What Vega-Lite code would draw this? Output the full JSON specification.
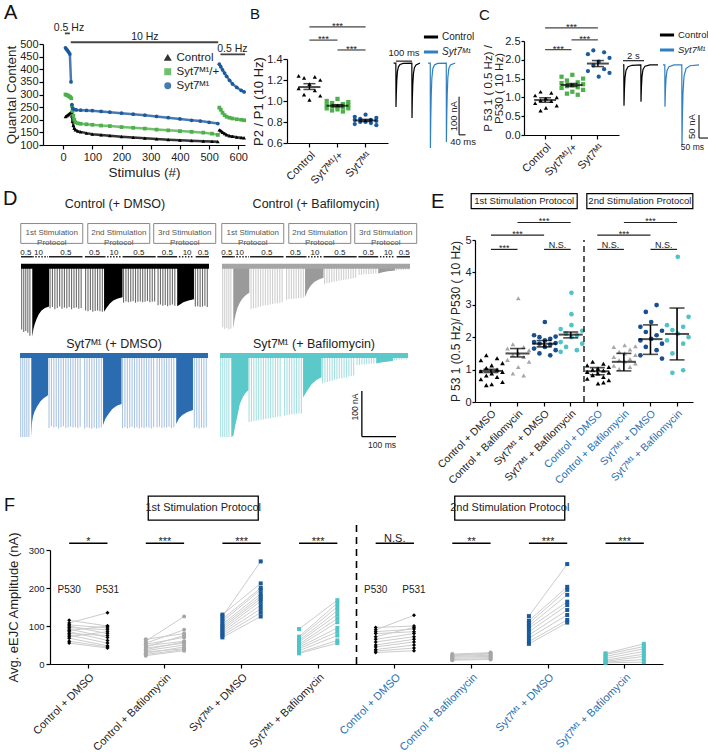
{
"$schema": "https://vega.github.io/schema/vega-lite/v6.json",
"padding": {"left": 3, "top": 2, "right": 0, "bottom": 0},
"background": "white",
"config": {
 "view": {"stroke": null},
 "font": "Liberation Sans",
 "axis": {"labelFont": "Liberation Sans", "titleFont": "Liberation Sans", "grid": false, "domainColor": "#000", "tickColor": "#000", "labelColor": "#222", "titleColor": "#222", "titleFontWeight": "normal", "domainWidth": 1.2, "tickWidth": 1.2, "tickSize": 4, "labelFontSize": 11, "titleFontSize": 12.5, "labelOverlap": false},
 "legend": {"labelFont": "Liberation Sans"},
 "text": {"font": "Liberation Sans"},
 "title": {"font": "Liberation Sans", "fontWeight": "normal", "fontSize": 17, "anchor": "start", "frame": "group", "color": "#111"}
},
"datasets": {
 "a": [
  {"g":"Control","seg":1,"s":8,"v":212},{"g":"Control","seg":1,"s":12,"v":215},{"g":"Control","seg":1,"s":16,"v":218},{"g":"Control","seg":1,"s":20,"v":222},{"g":"Control","seg":1,"s":24,"v":226},{"g":"Control","seg":1,"s":28,"v":230},
  {"g":"Control","seg":2,"s":30,"v":215},{"g":"Control","seg":2,"s":32,"v":195},{"g":"Control","seg":2,"s":35,"v":178},{"g":"Control","seg":2,"s":38,"v":166},{"g":"Control","seg":2,"s":42,"v":160},{"g":"Control","seg":2,"s":50,"v":155},{"g":"Control","seg":2,"s":60,"v":152},{"g":"Control","seg":2,"s":80,"v":147},{"g":"Control","seg":2,"s":100,"v":143},{"g":"Control","seg":2,"s":130,"v":140},{"g":"Control","seg":2,"s":160,"v":137},{"g":"Control","seg":2,"s":200,"v":133},{"g":"Control","seg":2,"s":240,"v":130},{"g":"Control","seg":2,"s":280,"v":127},{"g":"Control","seg":2,"s":320,"v":124},{"g":"Control","seg":2,"s":360,"v":121},{"g":"Control","seg":2,"s":400,"v":119},{"g":"Control","seg":2,"s":440,"v":117},{"g":"Control","seg":2,"s":480,"v":115},{"g":"Control","seg":2,"s":510,"v":114},{"g":"Control","seg":2,"s":530,"v":113},
  {"g":"Control","seg":3,"s":535,"v":160},{"g":"Control","seg":3,"s":540,"v":156},{"g":"Control","seg":3,"s":546,"v":150},{"g":"Control","seg":3,"s":553,"v":145},{"g":"Control","seg":3,"s":560,"v":140},{"g":"Control","seg":3,"s":570,"v":136},{"g":"Control","seg":3,"s":580,"v":134},{"g":"Control","seg":3,"s":595,"v":131},{"g":"Control","seg":3,"s":610,"v":129},{"g":"Control","seg":3,"s":620,"v":128},
  {"g":"Syt7ᴹ¹/+","seg":1,"s":8,"v":300},{"g":"Syt7ᴹ¹/+","seg":1,"s":12,"v":298},{"g":"Syt7ᴹ¹/+","seg":1,"s":16,"v":296},{"g":"Syt7ᴹ¹/+","seg":1,"s":20,"v":293},{"g":"Syt7ᴹ¹/+","seg":1,"s":24,"v":290},{"g":"Syt7ᴹ¹/+","seg":1,"s":28,"v":285},
  {"g":"Syt7ᴹ¹/+","seg":2,"s":30,"v":255},{"g":"Syt7ᴹ¹/+","seg":2,"s":32,"v":235},{"g":"Syt7ᴹ¹/+","seg":2,"s":35,"v":215},{"g":"Syt7ᴹ¹/+","seg":2,"s":38,"v":200},{"g":"Syt7ᴹ¹/+","seg":2,"s":42,"v":190},{"g":"Syt7ᴹ¹/+","seg":2,"s":50,"v":186},{"g":"Syt7ᴹ¹/+","seg":2,"s":60,"v":184},{"g":"Syt7ᴹ¹/+","seg":2,"s":80,"v":182},{"g":"Syt7ᴹ¹/+","seg":2,"s":100,"v":180},{"g":"Syt7ᴹ¹/+","seg":2,"s":130,"v":177},{"g":"Syt7ᴹ¹/+","seg":2,"s":160,"v":175},{"g":"Syt7ᴹ¹/+","seg":2,"s":200,"v":171},{"g":"Syt7ᴹ¹/+","seg":2,"s":240,"v":168},{"g":"Syt7ᴹ¹/+","seg":2,"s":280,"v":165},{"g":"Syt7ᴹ¹/+","seg":2,"s":320,"v":161},{"g":"Syt7ᴹ¹/+","seg":2,"s":360,"v":158},{"g":"Syt7ᴹ¹/+","seg":2,"s":400,"v":155},{"g":"Syt7ᴹ¹/+","seg":2,"s":440,"v":152},{"g":"Syt7ᴹ¹/+","seg":2,"s":480,"v":149},{"g":"Syt7ᴹ¹/+","seg":2,"s":510,"v":145},{"g":"Syt7ᴹ¹/+","seg":2,"s":530,"v":140},
  {"g":"Syt7ᴹ¹/+","seg":3,"s":535,"v":248},{"g":"Syt7ᴹ¹/+","seg":3,"s":540,"v":240},{"g":"Syt7ᴹ¹/+","seg":3,"s":546,"v":228},{"g":"Syt7ᴹ¹/+","seg":3,"s":553,"v":218},{"g":"Syt7ᴹ¹/+","seg":3,"s":560,"v":212},{"g":"Syt7ᴹ¹/+","seg":3,"s":570,"v":208},{"g":"Syt7ᴹ¹/+","seg":3,"s":580,"v":205},{"g":"Syt7ᴹ¹/+","seg":3,"s":595,"v":202},{"g":"Syt7ᴹ¹/+","seg":3,"s":610,"v":200},{"g":"Syt7ᴹ¹/+","seg":3,"s":620,"v":198},
  {"g":"Syt7ᴹ¹","seg":1,"s":8,"v":485},{"g":"Syt7ᴹ¹","seg":1,"s":11,"v":480},{"g":"Syt7ᴹ¹","seg":1,"s":14,"v":476},{"g":"Syt7ᴹ¹","seg":1,"s":17,"v":471},{"g":"Syt7ᴹ¹","seg":1,"s":20,"v":466},{"g":"Syt7ᴹ¹","seg":1,"s":23,"v":460},{"g":"Syt7ᴹ¹","seg":1,"s":27,"v":350},
  {"g":"Syt7ᴹ¹","seg":2,"s":30,"v":260},{"g":"Syt7ᴹ¹","seg":2,"s":33,"v":245},{"g":"Syt7ᴹ¹","seg":2,"s":38,"v":241},{"g":"Syt7ᴹ¹","seg":2,"s":45,"v":239},{"g":"Syt7ᴹ¹","seg":2,"s":60,"v":238},{"g":"Syt7ᴹ¹","seg":2,"s":80,"v":237},{"g":"Syt7ᴹ¹","seg":2,"s":100,"v":236},{"g":"Syt7ᴹ¹","seg":2,"s":130,"v":233},{"g":"Syt7ᴹ¹","seg":2,"s":160,"v":230},{"g":"Syt7ᴹ¹","seg":2,"s":200,"v":226},{"g":"Syt7ᴹ¹","seg":2,"s":240,"v":222},{"g":"Syt7ᴹ¹","seg":2,"s":280,"v":218},{"g":"Syt7ᴹ¹","seg":2,"s":320,"v":213},{"g":"Syt7ᴹ¹","seg":2,"s":360,"v":208},{"g":"Syt7ᴹ¹","seg":2,"s":400,"v":203},{"g":"Syt7ᴹ¹","seg":2,"s":440,"v":198},{"g":"Syt7ᴹ¹","seg":2,"s":470,"v":195},{"g":"Syt7ᴹ¹","seg":2,"s":500,"v":190},{"g":"Syt7ᴹ¹","seg":2,"s":530,"v":185},
  {"g":"Syt7ᴹ¹","seg":3,"s":535,"v":420},{"g":"Syt7ᴹ¹","seg":3,"s":540,"v":410},{"g":"Syt7ᴹ¹","seg":3,"s":546,"v":398},{"g":"Syt7ᴹ¹","seg":3,"s":553,"v":385},{"g":"Syt7ᴹ¹","seg":3,"s":560,"v":372},{"g":"Syt7ᴹ¹","seg":3,"s":570,"v":356},{"g":"Syt7ᴹ¹","seg":3,"s":580,"v":342},{"g":"Syt7ᴹ¹","seg":3,"s":595,"v":328},{"g":"Syt7ᴹ¹","seg":3,"s":610,"v":316},{"g":"Syt7ᴹ¹","seg":3,"s":620,"v":310}
 ],
 "aann": [
  {"s0":6,"s1":23,"y":542,"sm":20,"ty":562,"lab":"0.5 Hz"},
  {"s0":26,"s1":531,"y":507,"sm":280,"ty":527,"lab":"10 Hz"},
  {"s0":539,"s1":623,"y":459,"sm":580,"ty":479,"lab":"0.5 Hz"}
 ],
 "bp": [
  {"g":"Control","v":1.24,"k":1},{"g":"Control","v":1.23,"k":4},{"g":"Control","v":1.22,"k":2},{"g":"Control","v":1.20,"k":5},{"g":"Control","v":1.16,"k":3},{"g":"Control","v":1.12,"k":1},{"g":"Control","v":1.10,"k":4},{"g":"Control","v":1.06,"k":2},{"g":"Control","v":1.05,"k":5},{"g":"Control","v":1.01,"k":3},
  {"g":"Syt7ᴹ¹/+","v":1.02,"k":3},{"g":"Syt7ᴹ¹/+","v":1.00,"k":1},{"g":"Syt7ᴹ¹/+","v":0.99,"k":5},{"g":"Syt7ᴹ¹/+","v":0.98,"k":2},{"g":"Syt7ᴹ¹/+","v":0.97,"k":4},{"g":"Syt7ᴹ¹/+","v":0.96,"k":1},{"g":"Syt7ᴹ¹/+","v":0.96,"k":5},{"g":"Syt7ᴹ¹/+","v":0.95,"k":3},{"g":"Syt7ᴹ¹/+","v":0.95,"k":2},{"g":"Syt7ᴹ¹/+","v":0.94,"k":4},{"g":"Syt7ᴹ¹/+","v":0.93,"k":1},{"g":"Syt7ᴹ¹/+","v":0.93,"k":5},{"g":"Syt7ᴹ¹/+","v":0.92,"k":3},{"g":"Syt7ᴹ¹/+","v":0.91,"k":2},{"g":"Syt7ᴹ¹/+","v":0.90,"k":4},
  {"g":"Syt7ᴹ¹","v":0.87,"k":3},{"g":"Syt7ᴹ¹","v":0.85,"k":1},{"g":"Syt7ᴹ¹","v":0.84,"k":5},{"g":"Syt7ᴹ¹","v":0.83,"k":2},{"g":"Syt7ᴹ¹","v":0.82,"k":4},{"g":"Syt7ᴹ¹","v":0.82,"k":1},{"g":"Syt7ᴹ¹","v":0.81,"k":5},{"g":"Syt7ᴹ¹","v":0.80,"k":3},{"g":"Syt7ᴹ¹","v":0.80,"k":2},{"g":"Syt7ᴹ¹","v":0.79,"k":4},{"g":"Syt7ᴹ¹","v":0.78,"k":1},{"g":"Syt7ᴹ¹","v":0.77,"k":5}
 ],
 "bs": [{"g":"Control","m":1.133,"lo":1.11,"hi":1.165},{"g":"Syt7ᴹ¹/+","m":0.955,"lo":0.945,"hi":0.965},{"g":"Syt7ᴹ¹","m":0.815,"lo":0.805,"hi":0.825}],
 "bbr": [{"c1":"Control","c2":"Syt7ᴹ¹","y":1.705},{"c1":"Control","c2":"Syt7ᴹ¹/+","y":1.58},{"c1":"Syt7ᴹ¹/+","c2":"Syt7ᴹ¹","y":1.486}],
 "bbt": [{"c":"Syt7ᴹ¹/+","bp":0.5,"y":1.685,"s":"***"},{"c":"Control","bp":1,"y":1.56,"s":"***"},{"c":"Syt7ᴹ¹/+","bp":1,"y":1.466,"s":"***"}],
 "cp": [
  {"g":"Control","v":1.15,"k":2},{"g":"Control","v":1.12,"k":4},{"g":"Control","v":1.05,"k":1},{"g":"Control","v":1.00,"k":5},{"g":"Control","v":0.97,"k":3},{"g":"Control","v":0.92,"k":2},{"g":"Control","v":0.90,"k":4},{"g":"Control","v":0.85,"k":1},{"g":"Control","v":0.78,"k":5},{"g":"Control","v":0.72,"k":3},{"g":"Control","v":0.65,"k":2},
  {"g":"Syt7ᴹ¹/+","v":1.60,"k":3},{"g":"Syt7ᴹ¹/+","v":1.55,"k":1},{"g":"Syt7ᴹ¹/+","v":1.50,"k":5},{"g":"Syt7ᴹ¹/+","v":1.45,"k":2},{"g":"Syt7ᴹ¹/+","v":1.40,"k":4},{"g":"Syt7ᴹ¹/+","v":1.38,"k":1},{"g":"Syt7ᴹ¹/+","v":1.35,"k":5},{"g":"Syt7ᴹ¹/+","v":1.32,"k":3},{"g":"Syt7ᴹ¹/+","v":1.30,"k":2},{"g":"Syt7ᴹ¹/+","v":1.27,"k":4},{"g":"Syt7ᴹ¹/+","v":1.25,"k":1},{"g":"Syt7ᴹ¹/+","v":1.20,"k":5},{"g":"Syt7ᴹ¹/+","v":1.15,"k":3},{"g":"Syt7ᴹ¹/+","v":1.10,"k":2},{"g":"Syt7ᴹ¹/+","v":1.07,"k":4},
  {"g":"Syt7ᴹ¹","v":2.25,"k":2},{"g":"Syt7ᴹ¹","v":2.20,"k":4},{"g":"Syt7ᴹ¹","v":2.15,"k":1},{"g":"Syt7ᴹ¹","v":2.05,"k":5},{"g":"Syt7ᴹ¹","v":1.95,"k":3},{"g":"Syt7ᴹ¹","v":1.85,"k":2},{"g":"Syt7ᴹ¹","v":1.75,"k":4},{"g":"Syt7ᴹ¹","v":1.70,"k":1},{"g":"Syt7ᴹ¹","v":1.65,"k":5},{"g":"Syt7ᴹ¹","v":1.55,"k":3}
 ],
 "cs": [{"g":"Control","m":0.93,"lo":0.87,"hi":0.99},{"g":"Syt7ᴹ¹/+","m":1.33,"lo":1.29,"hi":1.37},{"g":"Syt7ᴹ¹","m":1.9,"lo":1.82,"hi":1.98}],
 "cbr": [{"c1":"Control","c2":"Syt7ᴹ¹","y":2.85},{"c1":"Control","c2":"Syt7ᴹ¹/+","y":2.27},{"c1":"Syt7ᴹ¹/+","c2":"Syt7ᴹ¹","y":2.53}],
 "cbt": [{"c":"Syt7ᴹ¹/+","bp":0.5,"y":2.80,"s":"***"},{"c":"Control","bp":1,"y":2.22,"s":"***"},{"c":"Syt7ᴹ¹/+","bp":1,"y":2.48,"s":"***"}],
 "btr": [
  {"tr":"Control","t":-10,"v":0},{"tr":"Control","t":4,"v":0},{"tr":"Control","t":5,"v":-116},{"tr":"Control","t":7,"v":-80},{"tr":"Control","t":10,"v":-45},{"tr":"Control","t":14,"v":-22},{"tr":"Control","t":20,"v":-10},{"tr":"Control","t":30,"v":-4},{"tr":"Control","t":50,"v":-1},{"tr":"Control","t":104,"v":0},{"tr":"Control","t":105,"v":-145},{"tr":"Control","t":107,"v":-95},{"tr":"Control","t":110,"v":-55},{"tr":"Control","t":114,"v":-28},{"tr":"Control","t":120,"v":-12},{"tr":"Control","t":130,"v":-5},{"tr":"Control","t":155,"v":0},
  {"tr":"Syt7ᴹ¹","t":205,"v":0},{"tr":"Syt7ᴹ¹","t":219,"v":0},{"tr":"Syt7ᴹ¹","t":220,"v":-224},{"tr":"Syt7ᴹ¹","t":222,"v":-150},{"tr":"Syt7ᴹ¹","t":225,"v":-85},{"tr":"Syt7ᴹ¹","t":229,"v":-40},{"tr":"Syt7ᴹ¹","t":235,"v":-15},{"tr":"Syt7ᴹ¹","t":245,"v":-5},{"tr":"Syt7ᴹ¹","t":265,"v":-1},{"tr":"Syt7ᴹ¹","t":319,"v":0},{"tr":"Syt7ᴹ¹","t":320,"v":-208},{"tr":"Syt7ᴹ¹","t":322,"v":-140},{"tr":"Syt7ᴹ¹","t":325,"v":-80},{"tr":"Syt7ᴹ¹","t":329,"v":-38},{"tr":"Syt7ᴹ¹","t":335,"v":-14},{"tr":"Syt7ᴹ¹","t":345,"v":-5},{"tr":"Syt7ᴹ¹","t":375,"v":0}
 ],
 "ctr": [
  {"tr":"Control","t":5,"v":0},{"tr":"Control","t":9,"v":0},{"tr":"Control","t":10,"v":-89},{"tr":"Control","t":12,"v":-55},{"tr":"Control","t":15,"v":-28},{"tr":"Control","t":20,"v":-12},{"tr":"Control","t":30,"v":-4},{"tr":"Control","t":50,"v":-1},{"tr":"Control","t":94,"v":0},{"tr":"Control","t":95,"v":-80},{"tr":"Control","t":97,"v":-50},{"tr":"Control","t":100,"v":-25},{"tr":"Control","t":105,"v":-10},{"tr":"Control","t":115,"v":-3},{"tr":"Control","t":140,"v":0},{"tr":"Control","t":180,"v":0},
  {"tr":"Syt7ᴹ¹","t":205,"v":0},{"tr":"Syt7ᴹ¹","t":214,"v":0},{"tr":"Syt7ᴹ¹","t":215,"v":-91},{"tr":"Syt7ᴹ¹","t":217,"v":-58},{"tr":"Syt7ᴹ¹","t":220,"v":-30},{"tr":"Syt7ᴹ¹","t":225,"v":-12},{"tr":"Syt7ᴹ¹","t":235,"v":-4},{"tr":"Syt7ᴹ¹","t":260,"v":0},{"tr":"Syt7ᴹ¹","t":299,"v":0},{"tr":"Syt7ᴹ¹","t":300,"v":-174},{"tr":"Syt7ᴹ¹","t":302,"v":-110},{"tr":"Syt7ᴹ¹","t":305,"v":-60},{"tr":"Syt7ᴹ¹","t":310,"v":-25},{"tr":"Syt7ᴹ¹","t":320,"v":-8},{"tr":"Syt7ᴹ¹","t":340,"v":-2},{"tr":"Syt7ᴹ¹","t":385,"v":0}
 ],
 "dev": [
  {"p":"cd","t":2,"a":-150},{"p":"cd","t":8,"a":-156},{"p":"cd","t":14,"a":-154},{"p":"cd","t":20,"a":-158},{"p":"cd","t":26,"a":-165},
  {"p":"cd","t":85,"a":-101},{"p":"cd","t":92,"a":-98},{"p":"cd","t":99,"a":-103},{"p":"cd","t":106,"a":-100},{"p":"cd","t":113,"a":-97},{"p":"cd","t":120,"a":-102},{"p":"cd","t":127,"a":-99},{"p":"cd","t":134,"a":-101},{"p":"cd","t":141,"a":-98},{"p":"cd","t":148,"a":-103},{"p":"cd","t":155,"a":-100},{"p":"cd","t":162,"a":-99},{"p":"cd","t":169,"a":-102},{"p":"cd","t":176,"a":-100},
  {"p":"cd","t":189,"a":-106},{"p":"cd","t":196,"a":-108},{"p":"cd","t":203,"a":-105},{"p":"cd","t":210,"a":-109},{"p":"cd","t":217,"a":-107},{"p":"cd","t":224,"a":-106},{"p":"cd","t":231,"a":-108},{"p":"cd","t":238,"a":-109},
  {"p":"cd","t":300,"a":-88},{"p":"cd","t":307,"a":-85},{"p":"cd","t":314,"a":-87},{"p":"cd","t":321,"a":-86},{"p":"cd","t":328,"a":-84},{"p":"cd","t":335,"a":-88},{"p":"cd","t":342,"a":-86},{"p":"cd","t":349,"a":-85},{"p":"cd","t":356,"a":-87},{"p":"cd","t":363,"a":-86},{"p":"cd","t":370,"a":-84},{"p":"cd","t":377,"a":-87},{"p":"cd","t":384,"a":-86},{"p":"cd","t":391,"a":-85},
  {"p":"cd","t":401,"a":-94},{"p":"cd","t":408,"a":-92},{"p":"cd","t":415,"a":-95},{"p":"cd","t":422,"a":-93},{"p":"cd","t":429,"a":-96},{"p":"cd","t":436,"a":-94},{"p":"cd","t":443,"a":-92},{"p":"cd","t":450,"a":-95},
  {"p":"cd","t":510,"a":-97},{"p":"cd","t":517,"a":-96},{"p":"cd","t":524,"a":-98},{"p":"cd","t":531,"a":-97},{"p":"cd","t":538,"a":-95},{"p":"cd","t":545,"a":-98},
  {"p":"cb","t":2,"a":-145},{"p":"cb","t":8,"a":-149},{"p":"cb","t":14,"a":-147},{"p":"cb","t":20,"a":-150},{"p":"cb","t":26,"a":-148},
  {"p":"cb","t":85,"a":-103},{"p":"cb","t":92,"a":-101},{"p":"cb","t":99,"a":-100},{"p":"cb","t":106,"a":-98},{"p":"cb","t":113,"a":-97},{"p":"cb","t":120,"a":-95},{"p":"cb","t":127,"a":-94},{"p":"cb","t":134,"a":-93},{"p":"cb","t":141,"a":-92},{"p":"cb","t":148,"a":-91},{"p":"cb","t":155,"a":-90},{"p":"cb","t":162,"a":-89},{"p":"cb","t":169,"a":-88},{"p":"cb","t":176,"a":-87},
  {"p":"cb","t":189,"a":-81},{"p":"cb","t":196,"a":-80},{"p":"cb","t":203,"a":-79},{"p":"cb","t":210,"a":-79},{"p":"cb","t":217,"a":-78},{"p":"cb","t":224,"a":-77},{"p":"cb","t":231,"a":-77},{"p":"cb","t":238,"a":-76},
  {"p":"cb","t":300,"a":-45},{"p":"cb","t":307,"a":-43},{"p":"cb","t":314,"a":-42},{"p":"cb","t":321,"a":-40},{"p":"cb","t":328,"a":-39},{"p":"cb","t":335,"a":-38},{"p":"cb","t":342,"a":-37},{"p":"cb","t":349,"a":-36},{"p":"cb","t":356,"a":-35},{"p":"cb","t":363,"a":-34},{"p":"cb","t":370,"a":-33},{"p":"cb","t":377,"a":-32},{"p":"cb","t":384,"a":-31},{"p":"cb","t":391,"a":-30},
  {"p":"cb","t":401,"a":-23},{"p":"cb","t":408,"a":-23},{"p":"cb","t":415,"a":-22},{"p":"cb","t":422,"a":-22},{"p":"cb","t":429,"a":-21},{"p":"cb","t":436,"a":-21},{"p":"cb","t":443,"a":-20},{"p":"cb","t":450,"a":-20},
  {"p":"cb","t":510,"a":-13},{"p":"cb","t":517,"a":-12},{"p":"cb","t":524,"a":-12},{"p":"cb","t":531,"a":-12},{"p":"cb","t":538,"a":-11},{"p":"cb","t":545,"a":-11},
  {"p":"sd","t":2,"a":-193},{"p":"sd","t":8,"a":-193},{"p":"sd","t":14,"a":-193},{"p":"sd","t":20,"a":-193},{"p":"sd","t":26,"a":-193},
  {"p":"sd","t":85,"a":-172},{"p":"sd","t":92,"a":-168},{"p":"sd","t":99,"a":-171},{"p":"sd","t":106,"a":-169},{"p":"sd","t":113,"a":-173},{"p":"sd","t":120,"a":-170},{"p":"sd","t":127,"a":-168},{"p":"sd","t":134,"a":-172},{"p":"sd","t":141,"a":-170},{"p":"sd","t":148,"a":-169},{"p":"sd","t":155,"a":-171},{"p":"sd","t":162,"a":-170},{"p":"sd","t":169,"a":-172},{"p":"sd","t":176,"a":-169},
  {"p":"sd","t":189,"a":-173},{"p":"sd","t":196,"a":-170},{"p":"sd","t":203,"a":-172},{"p":"sd","t":210,"a":-174},{"p":"sd","t":217,"a":-171},{"p":"sd","t":224,"a":-173},{"p":"sd","t":231,"a":-172},{"p":"sd","t":238,"a":-170},
  {"p":"sd","t":300,"a":-172},{"p":"sd","t":307,"a":-170},{"p":"sd","t":314,"a":-173},{"p":"sd","t":321,"a":-171},{"p":"sd","t":328,"a":-169},{"p":"sd","t":335,"a":-172},{"p":"sd","t":342,"a":-170},{"p":"sd","t":349,"a":-173},{"p":"sd","t":356,"a":-171},{"p":"sd","t":363,"a":-172},{"p":"sd","t":370,"a":-170},{"p":"sd","t":377,"a":-171},{"p":"sd","t":384,"a":-173},{"p":"sd","t":391,"a":-170},
  {"p":"sd","t":401,"a":-171},{"p":"sd","t":408,"a":-169},{"p":"sd","t":415,"a":-172},{"p":"sd","t":422,"a":-170},{"p":"sd","t":429,"a":-171},{"p":"sd","t":436,"a":-169},{"p":"sd","t":443,"a":-172},{"p":"sd","t":450,"a":-170},
  {"p":"sd","t":510,"a":-172},{"p":"sd","t":517,"a":-170},{"p":"sd","t":524,"a":-173},{"p":"sd","t":531,"a":-171},{"p":"sd","t":538,"a":-172},{"p":"sd","t":545,"a":-170},
  {"p":"sb","t":2,"a":-193},{"p":"sb","t":8,"a":-193},{"p":"sb","t":14,"a":-193},{"p":"sb","t":20,"a":-193},{"p":"sb","t":26,"a":-193},
  {"p":"sb","t":85,"a":-158},{"p":"sb","t":92,"a":-157},{"p":"sb","t":99,"a":-156},{"p":"sb","t":106,"a":-155},{"p":"sb","t":113,"a":-154},{"p":"sb","t":120,"a":-153},{"p":"sb","t":127,"a":-152},{"p":"sb","t":134,"a":-151},{"p":"sb","t":141,"a":-150},{"p":"sb","t":148,"a":-149},{"p":"sb","t":155,"a":-148},{"p":"sb","t":162,"a":-147},{"p":"sb","t":169,"a":-146},{"p":"sb","t":176,"a":-145},
  {"p":"sb","t":189,"a":-143},{"p":"sb","t":196,"a":-142},{"p":"sb","t":203,"a":-141},{"p":"sb","t":210,"a":-140},{"p":"sb","t":217,"a":-140},{"p":"sb","t":224,"a":-139},{"p":"sb","t":231,"a":-138},{"p":"sb","t":238,"a":-138},
  {"p":"sb","t":300,"a":-68},{"p":"sb","t":307,"a":-66},{"p":"sb","t":314,"a":-65},{"p":"sb","t":321,"a":-63},{"p":"sb","t":328,"a":-62},{"p":"sb","t":335,"a":-60},{"p":"sb","t":342,"a":-59},{"p":"sb","t":349,"a":-57},{"p":"sb","t":356,"a":-56},{"p":"sb","t":363,"a":-55},{"p":"sb","t":370,"a":-54},{"p":"sb","t":377,"a":-52},{"p":"sb","t":384,"a":-51},{"p":"sb","t":391,"a":-50},
  {"p":"sb","t":401,"a":-25},{"p":"sb","t":408,"a":-25},{"p":"sb","t":415,"a":-24},{"p":"sb","t":422,"a":-24},{"p":"sb","t":429,"a":-23},{"p":"sb","t":436,"a":-23},{"p":"sb","t":443,"a":-22},{"p":"sb","t":450,"a":-22},
  {"p":"sb","t":510,"a":-14},{"p":"sb","t":517,"a":-14},{"p":"sb","t":524,"a":-13},{"p":"sb","t":531,"a":-13},{"p":"sb","t":538,"a":-12},{"p":"sb","t":545,"a":-12}
 ],
 "dtr": [
  {"p":"cd","s":1,"t":33,"a":-167},{"p":"cd","s":1,"t":36,"a":-150},{"p":"cd","s":1,"t":40,"a":-138},{"p":"cd","s":1,"t":45,"a":-127},{"p":"cd","s":1,"t":52,"a":-115},{"p":"cd","s":1,"t":60,"a":-106},{"p":"cd","s":1,"t":70,"a":-100},{"p":"cd","s":1,"t":82,"a":-97},
  {"p":"cd","s":2,"t":243,"a":-109},{"p":"cd","s":2,"t":250,"a":-100},{"p":"cd","s":2,"t":260,"a":-90},{"p":"cd","s":2,"t":270,"a":-83},{"p":"cd","s":2,"t":283,"a":-78},{"p":"cd","s":2,"t":297,"a":-75},
  {"p":"cd","s":3,"t":457,"a":-96},{"p":"cd","s":3,"t":465,"a":-92},{"p":"cd","s":3,"t":475,"a":-87},{"p":"cd","s":3,"t":490,"a":-83},{"p":"cd","s":3,"t":506,"a":-80},
  {"p":"cb","s":1,"t":33,"a":-149},{"p":"cb","s":1,"t":36,"a":-130},{"p":"cb","s":1,"t":40,"a":-115},{"p":"cb","s":1,"t":45,"a":-100},{"p":"cb","s":1,"t":52,"a":-88},{"p":"cb","s":1,"t":60,"a":-78},{"p":"cb","s":1,"t":70,"a":-70},{"p":"cb","s":1,"t":80,"a":-65},
  {"p":"cb","s":2,"t":243,"a":-75},{"p":"cb","s":2,"t":250,"a":-60},{"p":"cb","s":2,"t":260,"a":-48},{"p":"cb","s":2,"t":270,"a":-40},{"p":"cb","s":2,"t":283,"a":-34},{"p":"cb","s":2,"t":297,"a":-30},
  {"p":"cb","s":3,"t":457,"a":-20},{"p":"cb","s":3,"t":470,"a":-17},{"p":"cb","s":3,"t":485,"a":-15},{"p":"cb","s":3,"t":506,"a":-13},
  {"p":"sd","s":1,"t":33,"a":-193},{"p":"sd","s":1,"t":35,"a":-160},{"p":"sd","s":1,"t":38,"a":-145},{"p":"sd","s":1,"t":42,"a":-135},{"p":"sd","s":1,"t":50,"a":-122},{"p":"sd","s":1,"t":60,"a":-110},{"p":"sd","s":1,"t":70,"a":-102},{"p":"sd","s":1,"t":82,"a":-96},
  {"p":"sd","s":2,"t":243,"a":-165},{"p":"sd","s":2,"t":250,"a":-150},{"p":"sd","s":2,"t":260,"a":-138},{"p":"sd","s":2,"t":270,"a":-128},{"p":"sd","s":2,"t":283,"a":-120},{"p":"sd","s":2,"t":297,"a":-116},
  {"p":"sd","s":3,"t":457,"a":-163},{"p":"sd","s":3,"t":465,"a":-150},{"p":"sd","s":3,"t":475,"a":-142},{"p":"sd","s":3,"t":490,"a":-135},{"p":"sd","s":3,"t":506,"a":-130},
  {"p":"sb","s":1,"t":33,"a":-193},{"p":"sb","s":1,"t":39,"a":-190},{"p":"sb","s":1,"t":45,"a":-165},{"p":"sb","s":1,"t":52,"a":-140},{"p":"sb","s":1,"t":58,"a":-116},{"p":"sb","s":1,"t":67,"a":-100},{"p":"sb","s":1,"t":75,"a":-90},{"p":"sb","s":1,"t":83,"a":-84},
  {"p":"sb","s":2,"t":243,"a":-101},{"p":"sb","s":2,"t":255,"a":-85},{"p":"sb","s":2,"t":268,"a":-70},{"p":"sb","s":2,"t":282,"a":-60},{"p":"sb","s":2,"t":297,"a":-54},
  {"p":"sb","s":3,"t":457,"a":-22},{"p":"sb","s":3,"t":475,"a":-19},{"p":"sb","s":3,"t":506,"a":-16}
 ],
 "dbox": [{"t":90,"a":73,"lab":"1st Stimulation\nProtocol"},{"t":286,"a":73,"lab":"2nd Stimulation\nProtocol"},{"t":479,"a":73,"lab":"3rd Stimulation\nProtocol"}],
 "dfreq": [
  {"t0":0,"t1":33,"tm":14,"lab":"0.5","k":"s"},{"t0":33,"t1":79,"tm":51,"lab":"10","k":"d"},{"t0":82,"t1":180,"tm":131,"lab":"0.5","k":"s"},
  {"t0":187,"t1":243,"tm":215,"lab":"0.5","k":"s"},{"t0":243,"t1":292,"tm":272,"lab":"10","k":"d"},{"t0":297,"t1":394,"tm":345,"lab":"0.5","k":"s"},
  {"t0":399,"t1":457,"tm":428,"lab":"0.5","k":"s"},{"t0":462,"t1":506,"tm":486,"lab":"10","k":"d"},{"t0":511,"t1":550,"tm":533,"lab":"0.5","k":"s"}
 ],
 "ep": [
  {"c":"Control + DMSO","g":"c","v":1.44,"k":2},{"c":"Control + DMSO","g":"c","v":1.35,"k":4},{"c":"Control + DMSO","g":"c","v":1.29,"k":1},{"c":"Control + DMSO","g":"c","v":1.20,"k":5},{"c":"Control + DMSO","g":"c","v":1.13,"k":3},{"c":"Control + DMSO","g":"c","v":1.05,"k":2},{"c":"Control + DMSO","g":"c","v":1.00,"k":4},{"c":"Control + DMSO","g":"c","v":0.95,"k":1},{"c":"Control + DMSO","g":"c","v":0.93,"k":5},{"c":"Control + DMSO","g":"c","v":0.88,"k":3},{"c":"Control + DMSO","g":"c","v":0.82,"k":2},{"c":"Control + DMSO","g":"c","v":0.77,"k":4},{"c":"Control + DMSO","g":"c","v":0.70,"k":1},{"c":"Control + DMSO","g":"c","v":0.62,"k":5},{"c":"Control + DMSO","g":"c","v":0.55,"k":3},{"c":"Control + DMSO","g":"c","v":0.52,"k":2},
  {"c":"Control + Bafilomycin","g":"cb","v":3.2,"k":3},{"c":"Control + Bafilomycin","g":"cb","v":1.78,"k":2},{"c":"Control + Bafilomycin","g":"cb","v":1.70,"k":4},{"c":"Control + Bafilomycin","g":"cb","v":1.65,"k":1},{"c":"Control + Bafilomycin","g":"cb","v":1.60,"k":5},{"c":"Control + Bafilomycin","g":"cb","v":1.50,"k":3},{"c":"Control + Bafilomycin","g":"cb","v":1.45,"k":2},{"c":"Control + Bafilomycin","g":"cb","v":1.39,"k":4},{"c":"Control + Bafilomycin","g":"cb","v":1.30,"k":1},{"c":"Control + Bafilomycin","g":"cb","v":1.24,"k":5},{"c":"Control + Bafilomycin","g":"cb","v":1.08,"k":3},{"c":"Control + Bafilomycin","g":"cb","v":0.88,"k":2},{"c":"Control + Bafilomycin","g":"cb","v":0.82,"k":4},
  {"c":"Syt7ᴹ¹ + DMSO","g":"s","v":2.47,"k":3},{"c":"Syt7ᴹ¹ + DMSO","g":"s","v":2.06,"k":1},{"c":"Syt7ᴹ¹ + DMSO","g":"s","v":2.02,"k":5},{"c":"Syt7ᴹ¹ + DMSO","g":"s","v":2.00,"k":2},{"c":"Syt7ᴹ¹ + DMSO","g":"s","v":1.95,"k":4},{"c":"Syt7ᴹ¹ + DMSO","g":"s","v":1.90,"k":3},{"c":"Syt7ᴹ¹ + DMSO","g":"s","v":1.85,"k":1},{"c":"Syt7ᴹ¹ + DMSO","g":"s","v":1.82,"k":5},{"c":"Syt7ᴹ¹ + DMSO","g":"s","v":1.80,"k":2},{"c":"Syt7ᴹ¹ + DMSO","g":"s","v":1.77,"k":4},{"c":"Syt7ᴹ¹ + DMSO","g":"s","v":1.70,"k":3},{"c":"Syt7ᴹ¹ + DMSO","g":"s","v":1.65,"k":1},{"c":"Syt7ᴹ¹ + DMSO","g":"s","v":1.60,"k":5},{"c":"Syt7ᴹ¹ + DMSO","g":"s","v":1.50,"k":2},{"c":"Syt7ᴹ¹ + DMSO","g":"s","v":1.44,"k":4},
  {"c":"Syt7ᴹ¹ + Bafilomycin","g":"sb","v":3.37,"k":3},{"c":"Syt7ᴹ¹ + Bafilomycin","g":"sb","v":2.71,"k":3},{"c":"Syt7ᴹ¹ + Bafilomycin","g":"sb","v":2.37,"k":3},{"c":"Syt7ᴹ¹ + Bafilomycin","g":"sb","v":2.25,"k":1},{"c":"Syt7ᴹ¹ + Bafilomycin","g":"sb","v":2.20,"k":5},{"c":"Syt7ᴹ¹ + Bafilomycin","g":"sb","v":2.11,"k":2},{"c":"Syt7ᴹ¹ + Bafilomycin","g":"sb","v":2.05,"k":4},{"c":"Syt7ᴹ¹ + Bafilomycin","g":"sb","v":2.00,"k":3},{"c":"Syt7ᴹ¹ + Bafilomycin","g":"sb","v":1.85,"k":1},{"c":"Syt7ᴹ¹ + Bafilomycin","g":"sb","v":1.80,"k":5},{"c":"Syt7ᴹ¹ + Bafilomycin","g":"sb","v":1.70,"k":2},{"c":"Syt7ᴹ¹ + Bafilomycin","g":"sb","v":1.60,"k":4},{"c":"Syt7ᴹ¹ + Bafilomycin","g":"sb","v":1.55,"k":1},
  {"c":"Control + DMSO ","g":"c","v":1.24,"k":2},{"c":"Control + DMSO ","g":"c","v":1.18,"k":4},{"c":"Control + DMSO ","g":"c","v":1.13,"k":1},{"c":"Control + DMSO ","g":"c","v":1.08,"k":5},{"c":"Control + DMSO ","g":"c","v":1.03,"k":3},{"c":"Control + DMSO ","g":"c","v":1.00,"k":2},{"c":"Control + DMSO ","g":"c","v":0.97,"k":4},{"c":"Control + DMSO ","g":"c","v":0.93,"k":1},{"c":"Control + DMSO ","g":"c","v":0.90,"k":5},{"c":"Control + DMSO ","g":"c","v":0.88,"k":3},{"c":"Control + DMSO ","g":"c","v":0.83,"k":2},{"c":"Control + DMSO ","g":"c","v":0.77,"k":4},{"c":"Control + DMSO ","g":"c","v":0.72,"k":1},{"c":"Control + DMSO ","g":"c","v":0.67,"k":5},{"c":"Control + DMSO ","g":"c","v":0.57,"k":3},{"c":"Control + DMSO ","g":"c","v":0.60,"k":4},
  {"c":"Control + Bafilomycin ","g":"cb","v":1.75,"k":3},{"c":"Control + Bafilomycin ","g":"cb","v":1.72,"k":5},{"c":"Control + Bafilomycin ","g":"cb","v":1.70,"k":1},{"c":"Control + Bafilomycin ","g":"cb","v":1.62,"k":4},{"c":"Control + Bafilomycin ","g":"cb","v":1.55,"k":2},{"c":"Control + Bafilomycin ","g":"cb","v":1.50,"k":3},{"c":"Control + Bafilomycin ","g":"cb","v":1.45,"k":5},{"c":"Control + Bafilomycin ","g":"cb","v":1.39,"k":1},{"c":"Control + Bafilomycin ","g":"cb","v":1.33,"k":4},{"c":"Control + Bafilomycin ","g":"cb","v":1.29,"k":2},{"c":"Control + Bafilomycin ","g":"cb","v":1.25,"k":3},{"c":"Control + Bafilomycin ","g":"cb","v":1.19,"k":5},{"c":"Control + Bafilomycin ","g":"cb","v":1.12,"k":1},{"c":"Control + Bafilomycin ","g":"cb","v":1.08,"k":4},{"c":"Control + Bafilomycin ","g":"cb","v":1.02,"k":2},
  {"c":"Syt7ᴹ¹ + DMSO ","g":"s","v":2.99,"k":4},{"c":"Syt7ᴹ¹ + DMSO ","g":"s","v":2.78,"k":2},{"c":"Syt7ᴹ¹ + DMSO ","g":"s","v":2.47,"k":3},{"c":"Syt7ᴹ¹ + DMSO ","g":"s","v":2.32,"k":1},{"c":"Syt7ᴹ¹ + DMSO ","g":"s","v":2.20,"k":5},{"c":"Syt7ᴹ¹ + DMSO ","g":"s","v":2.16,"k":2},{"c":"Syt7ᴹ¹ + DMSO ","g":"s","v":2.06,"k":4},{"c":"Syt7ᴹ¹ + DMSO ","g":"s","v":1.95,"k":3},{"c":"Syt7ᴹ¹ + DMSO ","g":"s","v":1.90,"k":1},{"c":"Syt7ᴹ¹ + DMSO ","g":"s","v":1.80,"k":5},{"c":"Syt7ᴹ¹ + DMSO ","g":"s","v":1.70,"k":2},{"c":"Syt7ᴹ¹ + DMSO ","g":"s","v":1.60,"k":4},{"c":"Syt7ᴹ¹ + DMSO ","g":"s","v":1.44,"k":1},{"c":"Syt7ᴹ¹ + DMSO ","g":"s","v":1.34,"k":5},
  {"c":"Syt7ᴹ¹ + Bafilomycin ","g":"sb","v":4.48,"k":3},{"c":"Syt7ᴹ¹ + Bafilomycin ","g":"sb","v":2.63,"k":5},{"c":"Syt7ᴹ¹ + Bafilomycin ","g":"sb","v":2.37,"k":1},{"c":"Syt7ᴹ¹ + Bafilomycin ","g":"sb","v":2.32,"k":4},{"c":"Syt7ᴹ¹ + Bafilomycin ","g":"sb","v":2.22,"k":2},{"c":"Syt7ᴹ¹ + Bafilomycin ","g":"sb","v":2.11,"k":3},{"c":"Syt7ᴹ¹ + Bafilomycin ","g":"sb","v":2.00,"k":5},{"c":"Syt7ᴹ¹ + Bafilomycin ","g":"sb","v":1.90,"k":1},{"c":"Syt7ᴹ¹ + Bafilomycin ","g":"sb","v":1.80,"k":4},{"c":"Syt7ᴹ¹ + Bafilomycin ","g":"sb","v":1.50,"k":2},{"c":"Syt7ᴹ¹ + Bafilomycin ","g":"sb","v":0.98,"k":4},{"c":"Syt7ᴹ¹ + Bafilomycin ","g":"sb","v":0.90,"k":2}
 ],
 "es": [
  {"c":"Control + DMSO","m":0.96,"lo":0.91,"hi":1.01},{"c":"Control + Bafilomycin","m":1.5,"lo":1.39,"hi":1.65},{"c":"Syt7ᴹ¹ + DMSO","m":1.8,"lo":1.7,"hi":1.9},{"c":"Syt7ᴹ¹ + Bafilomycin","m":2.08,"lo":1.98,"hi":2.16},
  {"c":"Control + DMSO ","m":0.95,"lo":0.84,"hi":1.06},{"c":"Control + Bafilomycin ","m":1.24,"lo":0.96,"hi":1.5},{"c":"Syt7ᴹ¹ + DMSO ","m":1.94,"lo":1.47,"hi":2.38},{"c":"Syt7ᴹ¹ + Bafilomycin ","m":2.1,"lo":1.3,"hi":2.9}
 ],
 "ebr": [
  {"c1":"Control + DMSO","c2":"Control + Bafilomycin","y":4.71},{"c1":"Control + DMSO","c2":"Syt7ᴹ¹ + DMSO","y":5.15},{"c1":"Control + Bafilomycin","c2":"Syt7ᴹ¹ + Bafilomycin","y":5.54},{"c1":"Syt7ᴹ¹ + DMSO","c2":"Syt7ᴹ¹ + Bafilomycin","y":4.71},
  {"c1":"Control + DMSO ","c2":"Control + Bafilomycin ","y":4.71},{"c1":"Control + DMSO ","c2":"Syt7ᴹ¹ + DMSO ","y":5.15},{"c1":"Control + Bafilomycin ","c2":"Syt7ᴹ¹ + Bafilomycin ","y":5.54},{"c1":"Syt7ᴹ¹ + DMSO ","c2":"Syt7ᴹ¹ + Bafilomycin ","y":4.71}
 ],
 "ebt": [
  {"c":"Control + DMSO","bp":1,"y":4.65,"s":"***"},{"c":"Control + Bafilomycin","bp":0.5,"y":5.09,"s":"***"},{"c":"Syt7ᴹ¹ + DMSO","bp":0.5,"y":5.48,"s":"***"},{"c":"Syt7ᴹ¹ + DMSO","bp":1,"y":4.76,"s":"N.S."},
  {"c":"Control + DMSO ","bp":1,"y":4.76,"s":"N.S."},{"c":"Control + Bafilomycin ","bp":0.5,"y":5.09,"s":"***"},{"c":"Syt7ᴹ¹ + DMSO ","bp":0.5,"y":5.48,"s":"***"},{"c":"Syt7ᴹ¹ + DMSO ","bp":1,"y":4.76,"s":"N.S."}
 ],
 "fp": [
  {"g":"c","a":"1a","b":"1b","v0":115,"v1":100},{"g":"c","a":"1a","b":"1b","v0":108,"v1":135},{"g":"c","a":"1a","b":"1b","v0":103,"v1":95},{"g":"c","a":"1a","b":"1b","v0":100,"v1":80},{"g":"c","a":"1a","b":"1b","v0":96,"v1":90},{"g":"c","a":"1a","b":"1b","v0":92,"v1":70},{"g":"c","a":"1a","b":"1b","v0":88,"v1":100},{"g":"c","a":"1a","b":"1b","v0":85,"v1":62},{"g":"c","a":"1a","b":"1b","v0":80,"v1":75},{"g":"c","a":"1a","b":"1b","v0":76,"v1":55},{"g":"c","a":"1a","b":"1b","v0":72,"v1":85},{"g":"c","a":"1a","b":"1b","v0":68,"v1":48},{"g":"c","a":"1a","b":"1b","v0":60,"v1":45},{"g":"c","a":"1a","b":"1b","v0":55,"v1":42},
  {"g":"cb","a":"2a","b":"2b","v0":65,"v1":80},{"g":"cb","a":"2a","b":"2b","v0":60,"v1":125},{"g":"cb","a":"2a","b":"2b","v0":55,"v1":90},{"g":"cb","a":"2a","b":"2b","v0":52,"v1":70},{"g":"cb","a":"2a","b":"2b","v0":48,"v1":60},{"g":"cb","a":"2a","b":"2b","v0":45,"v1":75},{"g":"cb","a":"2a","b":"2b","v0":42,"v1":55},{"g":"cb","a":"2a","b":"2b","v0":38,"v1":58},{"g":"cb","a":"2a","b":"2b","v0":35,"v1":50},{"g":"cb","a":"2a","b":"2b","v0":32,"v1":40},{"g":"cb","a":"2a","b":"2b","v0":28,"v1":45},{"g":"cb","a":"2a","b":"2b","v0":25,"v1":38},{"g":"cb","a":"2a","b":"2b","v0":22,"v1":35},
  {"g":"s","a":"3a","b":"3b","v0":130,"v1":212},{"g":"s","a":"3a","b":"3b","v0":125,"v1":270},{"g":"s","a":"3a","b":"3b","v0":118,"v1":200},{"g":"s","a":"3a","b":"3b","v0":112,"v1":195},{"g":"s","a":"3a","b":"3b","v0":105,"v1":185},{"g":"s","a":"3a","b":"3b","v0":100,"v1":178},{"g":"s","a":"3a","b":"3b","v0":95,"v1":172},{"g":"s","a":"3a","b":"3b","v0":90,"v1":165},{"g":"s","a":"3a","b":"3b","v0":85,"v1":155},{"g":"s","a":"3a","b":"3b","v0":80,"v1":145},{"g":"s","a":"3a","b":"3b","v0":75,"v1":135},{"g":"s","a":"3a","b":"3b","v0":70,"v1":125},
  {"g":"sb","a":"4a","b":"4b","v0":92,"v1":168},{"g":"sb","a":"4a","b":"4b","v0":72,"v1":160},{"g":"sb","a":"4a","b":"4b","v0":68,"v1":150},{"g":"sb","a":"4a","b":"4b","v0":62,"v1":140},{"g":"sb","a":"4a","b":"4b","v0":58,"v1":130},{"g":"sb","a":"4a","b":"4b","v0":52,"v1":120},{"g":"sb","a":"4a","b":"4b","v0":48,"v1":110},{"g":"sb","a":"4a","b":"4b","v0":44,"v1":95},{"g":"sb","a":"4a","b":"4b","v0":40,"v1":85},{"g":"sb","a":"4a","b":"4b","v0":35,"v1":75},{"g":"sb","a":"4a","b":"4b","v0":30,"v1":62},{"g":"sb","a":"4a","b":"4b","v0":28,"v1":55},
  {"g":"c","a":"5a","b":"5b","v0":96,"v1":100},{"g":"c","a":"5a","b":"5b","v0":90,"v1":128},{"g":"c","a":"5a","b":"5b","v0":85,"v1":92},{"g":"c","a":"5a","b":"5b","v0":80,"v1":85},{"g":"c","a":"5a","b":"5b","v0":72,"v1":96},{"g":"c","a":"5a","b":"5b","v0":65,"v1":80},{"g":"c","a":"5a","b":"5b","v0":58,"v1":72},{"g":"c","a":"5a","b":"5b","v0":50,"v1":65},{"g":"c","a":"5a","b":"5b","v0":45,"v1":58},{"g":"c","a":"5a","b":"5b","v0":38,"v1":50},{"g":"c","a":"5a","b":"5b","v0":30,"v1":35},{"g":"c","a":"5a","b":"5b","v0":34,"v1":42},
  {"g":"cb","a":"6a","b":"6b","v0":26,"v1":30},{"g":"cb","a":"6a","b":"6b","v0":24,"v1":28},{"g":"cb","a":"6a","b":"6b","v0":22,"v1":26},{"g":"cb","a":"6a","b":"6b","v0":20,"v1":23},{"g":"cb","a":"6a","b":"6b","v0":18,"v1":20},{"g":"cb","a":"6a","b":"6b","v0":15,"v1":17},{"g":"cb","a":"6a","b":"6b","v0":12,"v1":14},{"g":"cb","a":"6a","b":"6b","v0":10,"v1":12},
  {"g":"s","a":"7a","b":"7b","v0":126,"v1":263},{"g":"s","a":"7a","b":"7b","v0":114,"v1":203},{"g":"s","a":"7a","b":"7b","v0":107,"v1":195},{"g":"s","a":"7a","b":"7b","v0":100,"v1":182},{"g":"s","a":"7a","b":"7b","v0":94,"v1":164},{"g":"s","a":"7a","b":"7b","v0":85,"v1":155},{"g":"s","a":"7a","b":"7b","v0":76,"v1":142},{"g":"s","a":"7a","b":"7b","v0":68,"v1":129},{"g":"s","a":"7a","b":"7b","v0":59,"v1":116},{"g":"s","a":"7a","b":"7b","v0":53,"v1":109},
  {"g":"sb","a":"8a","b":"8b","v0":28,"v1":53},{"g":"sb","a":"8a","b":"8b","v0":25,"v1":46},{"g":"sb","a":"8a","b":"8b","v0":20,"v1":40},{"g":"sb","a":"8a","b":"8b","v0":15,"v1":33},{"g":"sb","a":"8a","b":"8b","v0":10,"v1":26},{"g":"sb","a":"8a","b":"8b","v0":7,"v1":20},{"g":"sb","a":"8a","b":"8b","v0":5,"v1":12},{"g":"sb","a":"8a","b":"8b","v0":3,"v1":5}
 ],
 "fsl": [{"a":"1a","b":"1b"},{"a":"2a","b":"2b"},{"a":"3a","b":"3b"},{"a":"4a","b":"4b"},{"a":"5a","b":"5b"},{"a":"6a","b":"6b"},{"a":"7a","b":"7b"},{"a":"8a","b":"8b"}],
 "fsig": [
  {"c":"Control + DMSO","s":"*","y":313},{"c":"Control + Bafilomycin","s":"***","y":313},{"c":"Syt7ᴹ¹ + DMSO","s":"***","y":313},{"c":"Syt7ᴹ¹ + Bafilomycin","s":"***","y":313},
  {"c":"Control + DMSO ","s":"N.S.","y":322},{"c":"Control + Bafilomycin ","s":"**","y":313},{"c":"Syt7ᴹ¹ + DMSO ","s":"***","y":313},{"c":"Syt7ᴹ¹ + Bafilomycin ","s":"***","y":313}
 ],
 "fpl": [{"a":"1a","lab":"P530"},{"a":"1b","lab":"P531"},{"a":"5a","lab":"P530"},{"a":"5b","lab":"P531"}]
},
"spacing": 0,
"resolve": {"scale": {"color": "independent", "shape": "independent"}, "legend": {"color": "independent", "shape": "independent"}},
"vconcat": [
 {"hconcat": [
   {"width": 1, "height": 1, "data": {"values": []}, "mark": "point"},
   {"vconcat": [
     {"width": 1, "height": 1, "data": {"values": []}, "mark": "point"},
     {"width": 202, "height": 101,
      "title": {"text": "A", "fontSize": 20, "dx": -39, "offset": 0},
      "layer": [
       {"data": {"name": "a"}, "mark": {"type": "line", "strokeWidth": 2.5, "opacity": 0.8},
        "encoding": {
         "x": {"field": "s", "type": "quantitative", "scale": {"domain": [-69, 623], "nice": false, "zero": false}, "axis": {"values": [0,100,200,300,400,500,600], "tickCount": 20, "title": "Stimulus (#)", "titleFontSize": 13.5, "labelFontSize": 11, "titlePadding": 3, "labelOverlap": false, "labelFlush": false}},
         "y": {"field": "v", "type": "quantitative", "scale": {"domain": [100, 500], "nice": false, "zero": false}, "axis": {"values": [100,150,200,250,300,350,400,450,500], "tickCount": 20, "title": "Quantal Content", "titleFontSize": 13.5, "labelFontSize": 11, "titlePadding": 1, "labelPadding": 1, "labelOverlap": false}},
         "color": {"field": "g", "type": "nominal", "scale": {"domain": ["Control","Syt7ᴹ¹/+","Syt7ᴹ¹"], "range": ["#000000","#4db04a","#1b5a9c"]}},
         "detail": {"field": "seg"}
        }},
       {"data": {"name": "a"}, "mark": {"type": "point", "filled": true, "size": 14, "opacity": 1},
        "encoding": {
         "x": {"field": "s", "type": "quantitative"},
         "y": {"field": "v", "type": "quantitative"},
         "color": {"field": "g", "type": "nominal", "legend": {"orient": "none", "legendX": 119, "legendY": 50, "title": null, "labelFontSize": 11.5, "symbolSize": 30, "rowPadding": 1, "labelOffset": 3, "padding": 0, "labelColor": "#222", "encode": {"labels": {"update": {"fontStyle": {"signal": "datum.label == 'Control' ? 'normal' : 'italic'"}}}}}},
         "shape": {"field": "g", "type": "nominal", "scale": {"domain": ["Control","Syt7ᴹ¹/+","Syt7ᴹ¹"], "range": ["triangle-up","square","circle"]}, "legend": {"orient": "none", "legendX": 119, "legendY": 50, "title": null, "labelFontSize": 11.5, "symbolSize": 30, "rowPadding": 1, "labelOffset": 3, "padding": 0, "labelColor": "#222", "encode": {"labels": {"update": {"fontStyle": {"signal": "datum.label == 'Control' ? 'normal' : 'italic'"}}}}}}
        }},
       {"data": {"name": "aann"}, "mark": {"type": "rule", "strokeWidth": 1.8, "color": "#444"},
        "encoding": {"x": {"field": "s0", "type": "quantitative"}, "x2": {"field": "s1"}, "y": {"field": "y", "type": "quantitative"}}},
       {"data": {"name": "aann"}, "mark": {"type": "text", "fontSize": 10.5, "color": "#222", "baseline": "middle"},
        "encoding": {"x": {"field": "sm", "type": "quantitative"}, "y": {"field": "ty", "type": "quantitative"}, "text": {"field": "lab"}}}
      ]}
   ], "spacing": 0},
   {"vconcat": [
     {"width": 1, "height": 5, "data": {"values": []}, "mark": "point"},
     {"width": 101, "height": 84,
      "title": {"text": "B", "fontSize": 15, "dx": -37, "offset": -1},
      "layer": [
       {"data": {"name": "bp"}, "mark": {"type": "point", "filled": true, "size": 18, "opacity": 1},
        "encoding": {
         "x": {"field": "g", "type": "nominal", "scale": {"domain": ["Control","Syt7ᴹ¹/+","Syt7ᴹ¹"], "paddingInner": 0, "paddingOuter": 0.3}, "axis": {"title": null, "labelAngle": -45, "labelFontSize": 11}},
         "xOffset": {"field": "k", "type": "nominal", "scale": {"paddingOuter": 0.6, "paddingInner": 0}},
         "y": {"field": "v", "type": "quantitative", "scale": {"domain": [0.6, 1.4], "nice": false, "zero": false}, "axis": {"values": [0.6,0.8,1.0,1.2,1.4], "tickCount": 20, "format": ".1f", "title": "P2 / P1 (10 Hz)", "titleFontSize": 13, "titlePadding": 1, "labelPadding": 1, "labelOverlap": false}},
         "color": {"field": "g", "type": "nominal", "scale": {"domain": ["Control","Syt7ᴹ¹/+","Syt7ᴹ¹"], "range": ["#000000","#4db04a","#1b5a9c"]}, "legend": null},
         "shape": {"field": "g", "type": "nominal", "scale": {"domain": ["Control","Syt7ᴹ¹/+","Syt7ᴹ¹"], "range": ["triangle-up","square","circle"]}, "legend": null}
        }},
       {"data": {"name": "bs"}, "mark": {"type": "tick", "size": 22, "thickness": 2, "color": "#000"}, "encoding": {"x": {"field": "g", "type": "nominal"}, "y": {"field": "m", "type": "quantitative"}}},
       {"data": {"name": "bs"}, "mark": {"type": "rule", "strokeWidth": 1.5, "color": "#000"}, "encoding": {"x": {"field": "g", "type": "nominal"}, "y": {"field": "lo", "type": "quantitative"}, "y2": {"field": "hi"}}},
       {"data": {"name": "bs"}, "mark": {"type": "tick", "size": 12, "thickness": 1.5, "color": "#000"}, "encoding": {"x": {"field": "g", "type": "nominal"}, "y": {"field": "lo", "type": "quantitative"}}},
       {"data": {"name": "bs"}, "mark": {"type": "tick", "size": 12, "thickness": 1.5, "color": "#000"}, "encoding": {"x": {"field": "g", "type": "nominal"}, "y": {"field": "hi", "type": "quantitative"}}},
       {"data": {"name": "bbr"}, "mark": {"type": "rule", "strokeWidth": 1.2, "color": "#444"}, "encoding": {"x": {"field": "c1", "type": "nominal"}, "x2": {"field": "c2"}, "y": {"field": "y", "type": "quantitative"}}},
       {"data": {"name": "bbt"}, "transform": [{"filter": "datum.bp == 1"}], "mark": {"type": "text", "fontSize": 9.5, "baseline": "alphabetic", "color": "#222"}, "encoding": {"x": {"field": "c", "type": "nominal", "bandPosition": 1}, "y": {"field": "y", "type": "quantitative"}, "text": {"field": "s"}}},
       {"data": {"name": "bbt"}, "transform": [{"filter": "datum.bp == 0.5"}], "mark": {"type": "text", "fontSize": 9.5, "baseline": "alphabetic", "color": "#222"}, "encoding": {"x": {"field": "c", "type": "nominal"}, "y": {"field": "y", "type": "quantitative"}, "text": {"field": "s"}}}
      ]}
   ], "spacing": 0},
   {"vconcat": [
     {"width": 1, "height": 28, "data": {"values": []}, "mark": "point"},
     {"width": 85, "height": 120,
      "layer": [
       {"data": {"name": "btr"}, "mark": {"type": "line", "strokeWidth": 1.2},
        "encoding": {
         "x": {"field": "t", "type": "quantitative", "scale": {"domain": [-20, 511], "nice": false, "zero": false}, "axis": null},
         "y": {"field": "v", "type": "quantitative", "scale": {"domain": [-229, 87], "nice": false, "zero": false}, "axis": null},
         "color": {"field": "tr", "type": "nominal", "scale": {"domain": ["Control","Syt7ᴹ¹"], "range": ["#000000","#2f7fc1"]}, "legend": {"orient": "none", "legendX": 30, "legendY": 26, "title": null, "symbolType": "stroke", "symbolStrokeWidth": 3, "symbolSize": 200, "labelFontSize": 10, "rowPadding": 0, "padding": 0, "labelOffset": 2, "labelColor": "#222", "encode": {"labels": {"update": {"fontStyle": {"signal": "datum.label == 'Control' ? 'normal' : 'italic'"}}}}}}
        }},
       {"data": {"values": [{}]}, "mark": {"type": "rule", "strokeWidth": 1.2, "color": "#222"}, "encoding": {"x": {"datum": 5, "axis": null}, "x2": {"datum": 105}, "y": {"datum": 5, "axis": null}}},
       {"data": {"values": [{}]}, "mark": {"type": "text", "fontSize": 9.5, "color": "#222", "baseline": "middle"}, "encoding": {"x": {"datum": 55, "axis": null}, "y": {"datum": 26, "axis": null}, "text": {"value": "100 ms"}}},
       {"data": {"values": [{}]}, "mark": {"type": "rule", "strokeWidth": 1.2, "color": "#222"}, "encoding": {"x": {"datum": 399, "axis": null}, "y": {"datum": -89, "axis": null}, "y2": {"datum": -189}}},
       {"data": {"values": [{}]}, "mark": {"type": "rule", "strokeWidth": 1.2, "color": "#222"}, "encoding": {"x": {"datum": 399, "axis": null}, "x2": {"datum": 439}, "y": {"datum": -189, "axis": null}}},
       {"data": {"values": [{}]}, "mark": {"type": "text", "fontSize": 9.5, "color": "#222", "angle": 270, "baseline": "middle"}, "encoding": {"x": {"datum": 367, "axis": null}, "y": {"datum": -140, "axis": null}, "text": {"value": "100 nA"}}},
       {"data": {"values": [{}]}, "mark": {"type": "text", "fontSize": 9.5, "color": "#222", "baseline": "middle"}, "encoding": {"x": {"datum": 424, "axis": null}, "y": {"datum": -208, "axis": null}, "text": {"value": "40 ms"}}}
      ]}
   ], "spacing": 0},
   {"width": 2, "height": 1, "data": {"values": []}, "mark": "point"},
   {"vconcat": [
     {"width": 1, "height": 5, "data": {"values": []}, "mark": "point"},
     {"width": 95, "height": 94,
      "title": {"text": "C", "fontSize": 15, "dx": -45, "offset": -1},
      "layer": [
       {"data": {"name": "cp"}, "mark": {"type": "point", "filled": true, "size": 18, "opacity": 1},
        "encoding": {
         "x": {"field": "g", "type": "nominal", "scale": {"domain": ["Control","Syt7ᴹ¹/+","Syt7ᴹ¹"], "paddingInner": 0, "paddingOuter": 0.3}, "axis": {"title": null, "labelAngle": -45, "labelFontSize": 11}},
         "xOffset": {"field": "k", "type": "nominal", "scale": {"paddingOuter": 0.6, "paddingInner": 0}},
         "y": {"field": "v", "type": "quantitative", "scale": {"domain": [0, 2.5], "nice": false, "zero": false}, "axis": {"values": [0,0.5,1,1.5,2,2.5], "tickCount": 20, "format": ".1f", "title": ["P 53 1 ( 0.5 Hz) /", "P530 ( 10 Hz)"], "titleFontSize": 11.5, "titleLineHeight": 11.5, "titlePadding": 0, "labelPadding": 1, "tickSize": 3, "labelOverlap": false}},
         "color": {"field": "g", "type": "nominal", "scale": {"domain": ["Control","Syt7ᴹ¹/+","Syt7ᴹ¹"], "range": ["#000000","#4db04a","#1b5a9c"]}, "legend": null},
         "shape": {"field": "g", "type": "nominal", "scale": {"domain": ["Control","Syt7ᴹ¹/+","Syt7ᴹ¹"], "range": ["triangle-up","square","circle"]}, "legend": null}
        }},
       {"data": {"name": "cs"}, "mark": {"type": "tick", "size": 22, "thickness": 2, "color": "#000"}, "encoding": {"x": {"field": "g", "type": "nominal"}, "y": {"field": "m", "type": "quantitative"}}},
       {"data": {"name": "cs"}, "mark": {"type": "rule", "strokeWidth": 1.5, "color": "#000"}, "encoding": {"x": {"field": "g", "type": "nominal"}, "y": {"field": "lo", "type": "quantitative"}, "y2": {"field": "hi"}}},
       {"data": {"name": "cs"}, "mark": {"type": "tick", "size": 12, "thickness": 1.5, "color": "#000"}, "encoding": {"x": {"field": "g", "type": "nominal"}, "y": {"field": "lo", "type": "quantitative"}}},
       {"data": {"name": "cs"}, "mark": {"type": "tick", "size": 12, "thickness": 1.5, "color": "#000"}, "encoding": {"x": {"field": "g", "type": "nominal"}, "y": {"field": "hi", "type": "quantitative"}}},
       {"data": {"name": "cbr"}, "mark": {"type": "rule", "strokeWidth": 1.2, "color": "#444"}, "encoding": {"x": {"field": "c1", "type": "nominal"}, "x2": {"field": "c2"}, "y": {"field": "y", "type": "quantitative"}}},
       {"data": {"name": "cbt"}, "transform": [{"filter": "datum.bp == 1"}], "mark": {"type": "text", "fontSize": 9.5, "baseline": "alphabetic", "color": "#222"}, "encoding": {"x": {"field": "c", "type": "nominal", "bandPosition": 1}, "y": {"field": "y", "type": "quantitative"}, "text": {"field": "s"}}},
       {"data": {"name": "cbt"}, "transform": [{"filter": "datum.bp == 0.5"}], "mark": {"type": "text", "fontSize": 9.5, "baseline": "alphabetic", "color": "#222"}, "encoding": {"x": {"field": "c", "type": "nominal"}, "y": {"field": "y", "type": "quantitative"}, "text": {"field": "s"}}}
      ]}
   ], "spacing": 0},
   {"width": 1, "height": 1, "data": {"values": []}, "mark": "point"},
   {"vconcat": [
     {"width": 1, "height": 26, "data": {"values": []}, "mark": "point"},
     {"width": 90, "height": 122,
      "layer": [
       {"data": {"name": "ctr"}, "mark": {"type": "line", "strokeWidth": 1.2},
        "encoding": {
         "x": {"field": "t", "type": "quantitative", "scale": {"domain": [0, 450], "nice": false, "zero": false}, "axis": null},
         "y": {"field": "v", "type": "quantitative", "scale": {"domain": [-185, 80], "nice": false, "zero": false}, "axis": null},
         "color": {"field": "tr", "type": "nominal", "scale": {"domain": ["Control","Syt7ᴹ¹"], "range": ["#000000","#2f7fc1"]}, "legend": {"orient": "none", "legendX": 36, "legendY": 24, "title": null, "symbolType": "stroke", "symbolStrokeWidth": 3, "symbolSize": 200, "labelFontSize": 9.5, "rowPadding": 0, "padding": 0, "labelOffset": 2, "labelColor": "#222", "encode": {"labels": {"update": {"fontStyle": {"signal": "datum.label == 'Control' ? 'normal' : 'italic'"}}}}}}
        }},
       {"data": {"values": [{}]}, "mark": {"type": "rule", "strokeWidth": 1.2, "color": "#222"}, "encoding": {"x": {"datum": 5, "axis": null}, "x2": {"datum": 110}, "y": {"datum": 9, "axis": null}}},
       {"data": {"values": [{}]}, "mark": {"type": "text", "fontSize": 9.5, "color": "#222", "baseline": "middle"}, "encoding": {"x": {"datum": 57, "axis": null}, "y": {"datum": 20, "axis": null}, "text": {"value": "2 s"}}},
       {"data": {"values": [{}]}, "mark": {"type": "rule", "strokeWidth": 1.2, "color": "#222"}, "encoding": {"x": {"datum": 385, "axis": null}, "y": {"datum": -109, "axis": null}, "y2": {"datum": -159}}},
       {"data": {"values": [{}]}, "mark": {"type": "rule", "strokeWidth": 1.2, "color": "#222"}, "encoding": {"x": {"datum": 385, "axis": null}, "x2": {"datum": 435}, "y": {"datum": -159, "axis": null}}},
       {"data": {"values": [{}]}, "mark": {"type": "text", "fontSize": 9.5, "color": "#222", "angle": 270, "baseline": "middle"}, "encoding": {"x": {"datum": 348, "axis": null}, "y": {"datum": -134, "axis": null}, "text": {"value": "50 nA"}}},
       {"data": {"values": [{}]}, "mark": {"type": "text", "fontSize": 8.5, "color": "#222", "baseline": "middle"}, "encoding": {"x": {"datum": 352, "axis": null}, "y": {"datum": -178, "axis": null}, "text": {"value": "50 ms"}}}
      ]}
   ], "spacing": 0}
 ], "spacing": 0, "resolve": {"scale": {"color": "independent", "shape": "independent"}, "legend": {"color": "independent", "shape": "independent"}}},
 {"hconcat": [
   {"vconcat": [
     {"width": 1, "height": 2, "data": {"values": []}, "mark": "point"},
     {"vconcat": [
       {"hconcat": [
         {"width": 14, "height": 1, "data": {"values": []}, "mark": "point", "title": {"text": "D", "fontSize": 20, "offset": 15.5}},
         {"width": 188, "height": 114,
          "title": {"text": "Control (+ DMSO)", "anchor": "middle", "fontSize": 12.5, "offset": 11, "color": "#222"},
          "layer": [
           {"data": {"name": "dev"}, "transform": [{"filter": "datum.p == 'cd'"}], "mark": {"type": "rule", "strokeWidth": 1.1, "color": "#6b6b6b"}, "encoding": {"x": {"field": "t", "type": "quantitative", "scale": {"domain": [0, 550], "nice": false, "zero": false}, "axis": null}, "y": {"field": "a", "type": "quantitative", "scale": {"domain": [-170, 95], "nice": false, "zero": false}, "axis": null}, "y2": {"datum": 0}}},
           {"data": {"name": "dtr"}, "transform": [{"filter": "datum.p == 'cd'"}], "mark": {"type": "area", "color": "#000"}, "encoding": {"x": {"field": "t", "type": "quantitative", "axis": null}, "y": {"field": "a", "type": "quantitative", "axis": null}, "y2": {"datum": 0}, "detail": {"field": "s"}}},
           {"data": {"values": [{}]}, "mark": {"type": "rule", "strokeWidth": 5, "color": "#000"}, "encoding": {"x": {"datum": 0, "type": "quantitative", "axis": null}, "x2": {"datum": 550}, "y": {"datum": -3, "type": "quantitative", "axis": null}}},
           {"data": {"name": "dbox"}, "mark": {"type": "point", "shape": "M-1,-0.32H1V0.32H-1Z", "size": 3844, "filled": false, "stroke": "#888", "strokeWidth": 1, "opacity": 1}, "encoding": {"x": {"field": "t", "type": "quantitative", "axis": null}, "y": {"field": "a", "type": "quantitative", "axis": null}}},
           {"data": {"name": "dbox"}, "mark": {"type": "text", "lineBreak": "\n", "fontSize": 8, "color": "#555", "lineHeight": 9.5, "baseline": "middle"}, "encoding": {"x": {"field": "t", "type": "quantitative", "axis": null}, "y": {"field": "a", "type": "quantitative", "axis": null}, "text": {"field": "lab"}}},
           {"data": {"name": "dfreq"}, "mark": {"type": "rule", "strokeWidth": 1.5, "color": "#222"}, "encoding": {"x": {"field": "t0", "type": "quantitative", "axis": null}, "x2": {"field": "t1"}, "y": {"datum": 19, "type": "quantitative", "axis": null}, "strokeDash": {"field": "k", "type": "nominal", "scale": {"domain": ["s","d"], "range": [[1,0],[1.5,1.5]]}, "legend": null}}},
           {"data": {"name": "dfreq"}, "mark": {"type": "text", "fontSize": 8, "color": "#222", "baseline": "alphabetic"}, "encoding": {"x": {"field": "tm", "type": "quantitative", "axis": null}, "y": {"datum": 23, "type": "quantitative", "axis": null}, "text": {"field": "lab"}}}
          ]},
         {"width": 1, "height": 1, "data": {"values": []}, "mark": "point"},
         {"width": 188, "height": 114,
          "title": {"text": "Control (+ Bafilomycin)", "anchor": "middle", "fontSize": 12.5, "offset": 11, "color": "#222"},
          "layer": [
           {"data": {"name": "dev"}, "transform": [{"filter": "datum.p == 'cb'"}], "mark": {"type": "rule", "strokeWidth": 1.1, "color": "#cfcfcf"}, "encoding": {"x": {"field": "t", "type": "quantitative", "scale": {"domain": [0, 550], "nice": false, "zero": false}, "axis": null}, "y": {"field": "a", "type": "quantitative", "scale": {"domain": [-170, 95], "nice": false, "zero": false}, "axis": null}, "y2": {"datum": 0}}},
           {"data": {"name": "dtr"}, "transform": [{"filter": "datum.p == 'cb'"}], "mark": {"type": "area", "color": "#9a9a9a"}, "encoding": {"x": {"field": "t", "type": "quantitative", "axis": null}, "y": {"field": "a", "type": "quantitative", "axis": null}, "y2": {"datum": 0}, "detail": {"field": "s"}}},
           {"data": {"values": [{}]}, "mark": {"type": "rule", "strokeWidth": 5, "color": "#a5a5a5"}, "encoding": {"x": {"datum": 0, "type": "quantitative", "axis": null}, "x2": {"datum": 550}, "y": {"datum": -3, "type": "quantitative", "axis": null}}},
           {"data": {"name": "dbox"}, "mark": {"type": "point", "shape": "M-1,-0.32H1V0.32H-1Z", "size": 3844, "filled": false, "stroke": "#888", "strokeWidth": 1, "opacity": 1}, "encoding": {"x": {"field": "t", "type": "quantitative", "axis": null}, "y": {"field": "a", "type": "quantitative", "axis": null}}},
           {"data": {"name": "dbox"}, "mark": {"type": "text", "lineBreak": "\n", "fontSize": 8, "color": "#555", "lineHeight": 9.5, "baseline": "middle"}, "encoding": {"x": {"field": "t", "type": "quantitative", "axis": null}, "y": {"field": "a", "type": "quantitative", "axis": null}, "text": {"field": "lab"}}},
           {"data": {"name": "dfreq"}, "mark": {"type": "rule", "strokeWidth": 1.5, "color": "#222"}, "encoding": {"x": {"field": "t0", "type": "quantitative", "axis": null}, "x2": {"field": "t1"}, "y": {"datum": 19, "type": "quantitative", "axis": null}, "strokeDash": {"field": "k", "type": "nominal", "scale": {"domain": ["s","d"], "range": [[1,0],[1.5,1.5]]}, "legend": null}}},
           {"data": {"name": "dfreq"}, "mark": {"type": "text", "fontSize": 8, "color": "#222", "baseline": "alphabetic"}, "encoding": {"x": {"field": "tm", "type": "quantitative", "axis": null}, "y": {"datum": 23, "type": "quantitative", "axis": null}, "text": {"field": "lab"}}}
          ]}
       ], "spacing": 0},
       {"hconcat": [
         {"width": 14, "height": 1, "data": {"values": []}, "mark": "point"},
         {"width": 188, "height": 88,
          "title": {"text": "Syt7ᴹ¹ (+ DMSO)", "anchor": "middle", "fontSize": 12.5, "offset": -1.5, "color": "#222"},
          "layer": [
           {"data": {"name": "dev"}, "transform": [{"filter": "datum.p == 'sd'"}], "mark": {"type": "rule", "strokeWidth": 1.1, "color": "#a9c5e4"}, "encoding": {"x": {"field": "t", "type": "quantitative", "scale": {"domain": [0, 550], "nice": false, "zero": false}, "axis": null}, "y": {"field": "a", "type": "quantitative", "scale": {"domain": [-193, 12], "nice": false, "zero": false}, "axis": null}, "y2": {"datum": 0}}},
           {"data": {"name": "dtr"}, "transform": [{"filter": "datum.p == 'sd'"}], "mark": {"type": "area", "color": "#2b6cb0"}, "encoding": {"x": {"field": "t", "type": "quantitative", "axis": null}, "y": {"field": "a", "type": "quantitative", "axis": null}, "y2": {"datum": 0}, "detail": {"field": "s"}}},
           {"data": {"values": [{}]}, "mark": {"type": "rule", "strokeWidth": 5, "color": "#2b6cb0"}, "encoding": {"x": {"datum": 0, "type": "quantitative", "axis": null}, "x2": {"datum": 550}, "y": {"datum": -3, "type": "quantitative", "axis": null}}}
          ]},
         {"width": 6, "height": 1, "data": {"values": []}, "mark": "point"},
         {"width": 188, "height": 88,
          "title": {"text": "Syt7ᴹ¹ (+ Bafilomycin)", "anchor": "middle", "fontSize": 12.5, "offset": -1.5, "color": "#222"},
          "layer": [
           {"data": {"name": "dev"}, "transform": [{"filter": "datum.p == 'sb'"}], "mark": {"type": "rule", "strokeWidth": 1.1, "color": "#a6e0e2"}, "encoding": {"x": {"field": "t", "type": "quantitative", "scale": {"domain": [0, 550], "nice": false, "zero": false}, "axis": null}, "y": {"field": "a", "type": "quantitative", "scale": {"domain": [-193, 12], "nice": false, "zero": false}, "axis": null}, "y2": {"datum": 0}}},
           {"data": {"name": "dtr"}, "transform": [{"filter": "datum.p == 'sb'"}], "mark": {"type": "area", "color": "#5bc8ca"}, "encoding": {"x": {"field": "t", "type": "quantitative", "axis": null}, "y": {"field": "a", "type": "quantitative", "axis": null}, "y2": {"datum": 0}, "detail": {"field": "s"}}},
           {"data": {"values": [{}]}, "mark": {"type": "rule", "strokeWidth": 5, "color": "#5bc8ca"}, "encoding": {"x": {"datum": 0, "type": "quantitative", "axis": null}, "x2": {"datum": 550}, "y": {"datum": -3, "type": "quantitative", "axis": null}}},
           {"data": {"values": [{}]}, "mark": {"type": "rule", "strokeWidth": 1.3, "color": "#000"}, "encoding": {"x": {"datum": 415, "type": "quantitative", "axis": null}, "y": {"datum": -86, "type": "quantitative", "axis": null}, "y2": {"datum": -192}}},
           {"data": {"values": [{}]}, "mark": {"type": "rule", "strokeWidth": 1.3, "color": "#000"}, "encoding": {"x": {"datum": 415, "type": "quantitative", "axis": null}, "x2": {"datum": 515}, "y": {"datum": -192, "type": "quantitative", "axis": null}}},
           {"data": {"values": [{}]}, "mark": {"type": "text", "fontSize": 8.5, "color": "#222", "angle": 270, "baseline": "middle"}, "encoding": {"x": {"datum": 395, "type": "quantitative", "axis": null}, "y": {"datum": -123, "type": "quantitative", "axis": null}, "text": {"value": "100 nA"}}},
           {"data": {"values": [{}]}, "mark": {"type": "text", "fontSize": 8.5, "color": "#222", "baseline": "middle"}, "encoding": {"x": {"datum": 474, "type": "quantitative", "axis": null}, "y": {"datum": -211, "type": "quantitative", "axis": null}, "text": {"value": "100 ms"}}}
          ]}
       ], "spacing": 0}
     ], "spacing": 0}
   ], "spacing": 0},
   {"width": 12, "height": 1, "data": {"values": []}, "mark": "point"},
   {"vconcat": [
     {"width": 1, "height": 5, "data": {"values": []}, "mark": "point"},
     {"width": 218, "height": 162,
      "title": {"text": "E", "fontSize": 20, "dx": -44, "offset": -20.4},
      "layer": [
       {"data": {"name": "ep"}, "mark": {"type": "point", "filled": true, "size": 22, "opacity": 1},
        "encoding": {
         "x": {"field": "c", "type": "nominal", "scale": {"domain": ["Control + DMSO","Control + Bafilomycin","Syt7ᴹ¹ + DMSO","Syt7ᴹ¹ + Bafilomycin","Control + DMSO ","Control + Bafilomycin ","Syt7ᴹ¹ + DMSO ","Syt7ᴹ¹ + Bafilomycin "], "paddingInner": 0, "paddingOuter": 0.1}, "axis": {"title": null, "labelAngle": -45, "labelFontSize": 10.5, "labelPadding": 2, "labelColor": {"condition": {"test": "test(regexp(' $'), datum.value)", "value": "#2a6fb0"}, "value": "#222"}}},
         "xOffset": {"field": "k", "type": "nominal", "scale": {"paddingOuter": 0.5, "paddingInner": 0}},
         "y": {"field": "v", "type": "quantitative", "scale": {"domain": [0, 5], "nice": false}, "axis": {"values": [0,1,2,3,4,5], "tickCount": 20, "format": "d", "title": "P 53 1  (0.5 Hz)/ P530 ( 10 Hz)", "titleFontSize": 12, "labelFontSize": 11, "titlePadding": 2, "tickSize": 3, "labelPadding": 1, "labelOverlap": false}},
         "color": {"field": "g", "type": "nominal", "scale": {"domain": ["c","cb","s","sb"], "range": ["#000000","#a6a6a6","#1a4f8f","#4fc3c5"]}, "legend": null},
         "shape": {"field": "g", "type": "nominal", "scale": {"domain": ["c","cb","s","sb"], "range": ["triangle-up","triangle-up","circle","circle"]}, "legend": null}
        }},
       {"data": {"name": "es"}, "mark": {"type": "tick", "size": 24, "thickness": 2, "color": "#000"}, "encoding": {"x": {"field": "c", "type": "nominal"}, "y": {"field": "m", "type": "quantitative"}}},
       {"data": {"name": "es"}, "mark": {"type": "rule", "strokeWidth": 1.6, "color": "#000"}, "encoding": {"x": {"field": "c", "type": "nominal"}, "y": {"field": "lo", "type": "quantitative"}, "y2": {"field": "hi"}}},
       {"data": {"name": "es"}, "mark": {"type": "tick", "size": 15, "thickness": 1.6, "color": "#000"}, "encoding": {"x": {"field": "c", "type": "nominal"}, "y": {"field": "lo", "type": "quantitative"}}},
       {"data": {"name": "es"}, "mark": {"type": "tick", "size": 15, "thickness": 1.6, "color": "#000"}, "encoding": {"x": {"field": "c", "type": "nominal"}, "y": {"field": "hi", "type": "quantitative"}}},
       {"data": {"values": [{}]}, "mark": {"type": "rule", "strokeDash": [6, 4], "strokeWidth": 1.3, "color": "#000"}, "encoding": {"x": {"datum": "Syt7ᴹ¹ + Bafilomycin", "type": "nominal", "bandPosition": 1}, "y": {"datum": 0, "type": "quantitative"}, "y2": {"datum": 5}}},
       {"data": {"name": "ebr"}, "mark": {"type": "rule", "strokeWidth": 1.2, "color": "#222"}, "encoding": {"x": {"field": "c1", "type": "nominal"}, "x2": {"field": "c2"}, "y": {"field": "y", "type": "quantitative"}}},
       {"data": {"name": "ebt"}, "transform": [{"filter": "datum.bp == 1"}], "mark": {"type": "text", "fontSize": 9, "baseline": "alphabetic", "color": "#222"}, "encoding": {"x": {"field": "c", "type": "nominal", "bandPosition": 1}, "y": {"field": "y", "type": "quantitative"}, "text": {"field": "s"}}},
       {"data": {"name": "ebt"}, "transform": [{"filter": "datum.bp == 0.5"}], "mark": {"type": "text", "fontSize": 9, "baseline": "alphabetic", "color": "#222"}, "encoding": {"x": {"field": "c", "type": "nominal"}, "y": {"field": "y", "type": "quantitative"}, "text": {"field": "s"}}},
       {"data": {"values": [{}]}, "mark": {"type": "point", "shape": "M-1,-0.1415H1V0.1415H-1Z", "size": 11236, "filled": false, "stroke": "#000", "strokeWidth": 1.2, "opacity": 1}, "encoding": {"x": {"datum": "Control + Bafilomycin", "type": "nominal", "bandPosition": 0.75}, "y": {"datum": 6.2, "type": "quantitative"}}},
       {"data": {"values": [{}]}, "mark": {"type": "text", "fontSize": 9.5, "color": "#222", "baseline": "middle"}, "encoding": {"x": {"datum": "Control + Bafilomycin", "type": "nominal", "bandPosition": 0.75}, "y": {"datum": 6.2, "type": "quantitative"}, "text": {"value": "1st Stimulation Protocol"}}},
       {"data": {"values": [{}]}, "mark": {"type": "point", "shape": "M-1,-0.1415H1V0.1415H-1Z", "size": 11236, "filled": false, "stroke": "#000", "strokeWidth": 1.2, "opacity": 1}, "encoding": {"x": {"datum": "Syt7ᴹ¹ + DMSO ", "type": "nominal", "bandPosition": 0.1}, "y": {"datum": 6.2, "type": "quantitative"}}},
       {"data": {"values": [{}]}, "mark": {"type": "text", "fontSize": 9.5, "color": "#222", "baseline": "middle"}, "encoding": {"x": {"datum": "Syt7ᴹ¹ + DMSO ", "type": "nominal", "bandPosition": 0.1}, "y": {"datum": 6.2, "type": "quantitative"}, "text": {"value": "2nd Stimulation Protocol"}}}
      ]}
   ], "spacing": 0}
 ], "spacing": 0, "resolve": {"scale": {"color": "independent", "shape": "independent"}, "legend": {"color": "independent", "shape": "independent"}}},
 {"width": 1, "height": 7, "data": {"values": []}, "mark": "point"},
 {"hconcat": [
   {"width": 1, "height": 1, "data": {"values": []}, "mark": "point"},
   {"width": 613, "height": 114,
    "title": {"text": "F", "fontSize": 18, "dx": -46, "offset": -21},
    "resolve": {"scale": {"x": "independent"}, "axis": {"x": "independent"}},
    "layer": [
     {"data": {"name": "fsig"}, "mark": {"type": "text", "fontSize": 11, "baseline": "alphabetic", "color": "#222"},
      "encoding": {
       "x": {"field": "c", "type": "nominal", "scale": {"type": "band", "domain": ["Control + DMSO","Control + Bafilomycin","Syt7ᴹ¹ + DMSO","Syt7ᴹ¹ + Bafilomycin","Control + DMSO ","Control + Bafilomycin ","Syt7ᴹ¹ + DMSO ","Syt7ᴹ¹ + Bafilomycin "], "paddingInner": 0, "paddingOuter": 0}, "axis": {"title": null, "labelAngle": -45, "labelFontSize": 11, "labelPadding": 3, "labelColor": {"condition": {"test": "test(regexp(' $'), datum.value)", "value": "#2a6fb0"}, "value": "#222"}}},
       "y": {"field": "y", "type": "quantitative", "scale": {"domain": [0, 300], "nice": false}, "axis": {"values": [0,100,200,300], "tickCount": 20, "title": "Avg. eEJC Amplitude (nA)", "titleFontSize": 13, "labelFontSize": 9.5, "titlePadding": 8, "labelOverlap": false}},
       "text": {"field": "s"}
      }},
     {"data": {"name": "fsl"}, "mark": {"type": "rule", "strokeWidth": 1.5, "color": "#000"},
      "encoding": {"x": {"field": "a", "type": "nominal", "scale": {"type": "point", "domain": ["1a","1b","2a","2b","3a","3b","4a","4b","5a","5b","6a","6b","7a","7b","8a","8b"], "padding": 0.5}, "axis": null}, "x2": {"field": "b"}, "y": {"datum": 318, "type": "quantitative"}}},
     {"data": {"name": "fp"}, "mark": {"type": "rule", "strokeWidth": 1, "color": "#cccccc"},
      "encoding": {"x": {"field": "a", "type": "nominal", "scale": {"type": "point", "domain": ["1a","1b","2a","2b","3a","3b","4a","4b","5a","5b","6a","6b","7a","7b","8a","8b"], "padding": 0.5}, "axis": null}, "x2": {"field": "b"}, "y": {"field": "v0", "type": "quantitative"}, "y2": {"field": "v1"}}},
     {"data": {"name": "fp"}, "mark": {"type": "point", "filled": true, "size": 16, "opacity": 1},
      "encoding": {"x": {"field": "a", "type": "nominal", "scale": {"type": "point", "domain": ["1a","1b","2a","2b","3a","3b","4a","4b","5a","5b","6a","6b","7a","7b","8a","8b"], "padding": 0.5}, "axis": null}, "y": {"field": "v0", "type": "quantitative"},
       "color": {"field": "g", "type": "nominal", "scale": {"domain": ["c","cb","s","sb"], "range": ["#000000","#a6a6a6","#1a5a9c","#4fc3c5"]}, "legend": null},
       "shape": {"field": "g", "type": "nominal", "scale": {"domain": ["c","cb","s","sb"], "range": ["diamond","circle","square","square"]}, "legend": null}}},
     {"data": {"name": "fp"}, "mark": {"type": "point", "filled": true, "size": 16, "opacity": 1},
      "encoding": {"x": {"field": "b", "type": "nominal", "scale": {"type": "point", "domain": ["1a","1b","2a","2b","3a","3b","4a","4b","5a","5b","6a","6b","7a","7b","8a","8b"], "padding": 0.5}, "axis": null}, "y": {"field": "v1", "type": "quantitative"},
       "color": {"field": "g", "type": "nominal", "legend": null},
       "shape": {"field": "g", "type": "nominal", "legend": null}}},
     {"data": {"name": "fpl"}, "mark": {"type": "text", "fontSize": 10, "color": "#222", "baseline": "middle"},
      "encoding": {"x": {"field": "a", "type": "nominal", "scale": {"type": "point", "domain": ["1a","1b","2a","2b","3a","3b","4a","4b","5a","5b","6a","6b","7a","7b","8a","8b"], "padding": 0.5}, "axis": null}, "y": {"datum": 195, "type": "quantitative"}, "text": {"field": "lab"}}},
     {"data": {"values": [{}]}, "mark": {"type": "rule", "strokeDash": [7, 5], "strokeWidth": 1.6, "color": "#000"},
      "encoding": {"x": {"datum": "Syt7ᴹ¹ + Bafilomycin", "type": "nominal", "bandPosition": 1, "scale": {"type": "band", "domain": ["Control + DMSO","Control + Bafilomycin","Syt7ᴹ¹ + DMSO","Syt7ᴹ¹ + Bafilomycin","Control + DMSO ","Control + Bafilomycin ","Syt7ᴹ¹ + DMSO ","Syt7ᴹ¹ + Bafilomycin "], "paddingInner": 0, "paddingOuter": 0}, "axis": null}, "y": {"datum": 0, "type": "quantitative"}, "y2": {"datum": 375}}},
     {"data": {"values": [{}]}, "mark": {"type": "point", "shape": "M-1,-0.218H1V0.218H-1Z", "size": 12100, "filled": false, "stroke": "#000", "strokeWidth": 1.3, "opacity": 1},
      "encoding": {"x": {"datum": "Control + Bafilomycin", "type": "nominal", "bandPosition": 1, "scale": {"type": "band", "domain": ["Control + DMSO","Control + Bafilomycin","Syt7ᴹ¹ + DMSO","Syt7ᴹ¹ + Bafilomycin","Control + DMSO ","Control + Bafilomycin ","Syt7ᴹ¹ + DMSO ","Syt7ᴹ¹ + Bafilomycin "], "paddingInner": 0, "paddingOuter": 0}, "axis": null}, "y": {"datum": 410, "type": "quantitative"}}},
     {"data": {"values": [{}]}, "mark": {"type": "text", "fontSize": 11, "color": "#222", "baseline": "middle"},
      "encoding": {"x": {"datum": "Control + Bafilomycin", "type": "nominal", "bandPosition": 1, "scale": {"type": "band", "domain": ["Control + DMSO","Control + Bafilomycin","Syt7ᴹ¹ + DMSO","Syt7ᴹ¹ + Bafilomycin","Control + DMSO ","Control + Bafilomycin ","Syt7ᴹ¹ + DMSO ","Syt7ᴹ¹ + Bafilomycin "], "paddingInner": 0, "paddingOuter": 0}, "axis": null}, "y": {"datum": 410, "type": "quantitative"}, "text": {"value": "1st Stimulation Protocol"}}},
     {"data": {"values": [{}]}, "mark": {"type": "point", "shape": "M-1,-0.218H1V0.218H-1Z", "size": 12100, "filled": false, "stroke": "#000", "strokeWidth": 1.3, "opacity": 1},
      "encoding": {"x": {"datum": "Control + Bafilomycin ", "type": "nominal", "bandPosition": 1, "scale": {"type": "band", "domain": ["Control + DMSO","Control + Bafilomycin","Syt7ᴹ¹ + DMSO","Syt7ᴹ¹ + Bafilomycin","Control + DMSO ","Control + Bafilomycin ","Syt7ᴹ¹ + DMSO ","Syt7ᴹ¹ + Bafilomycin "], "paddingInner": 0, "paddingOuter": 0}, "axis": null}, "y": {"datum": 410, "type": "quantitative"}}},
     {"data": {"values": [{}]}, "mark": {"type": "text", "fontSize": 11, "color": "#222", "baseline": "middle"},
      "encoding": {"x": {"datum": "Control + Bafilomycin ", "type": "nominal", "bandPosition": 1, "scale": {"type": "band", "domain": ["Control + DMSO","Control + Bafilomycin","Syt7ᴹ¹ + DMSO","Syt7ᴹ¹ + Bafilomycin","Control + DMSO ","Control + Bafilomycin ","Syt7ᴹ¹ + DMSO ","Syt7ᴹ¹ + Bafilomycin "], "paddingInner": 0, "paddingOuter": 0}, "axis": null}, "y": {"datum": 410, "type": "quantitative"}, "text": {"value": "2nd Stimulation Protocol"}}}
    ]}
 ], "spacing": 0}
]
}
